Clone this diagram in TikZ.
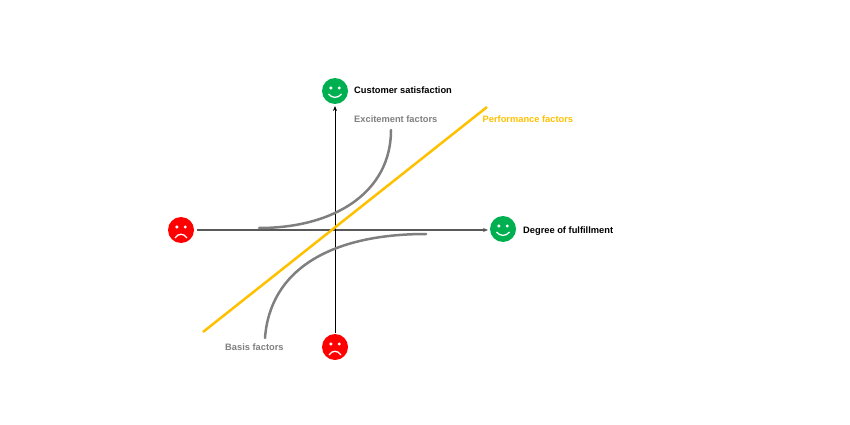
\documentclass[tikz,border=0pt]{standalone}
\usepackage{fontspec}
\setmainfont{Liberation Sans}
\usetikzlibrary{arrows.meta}
\definecolor{fgreen}{HTML}{00B050}
\definecolor{fred}{HTML}{FF0000}
\definecolor{fgray}{HTML}{7F7F7F}
\definecolor{fyellow}{HTML}{FFC000}
\definecolor{faxis}{HTML}{595959}
\tikzset{
  face/.style={circle, fill=#1, minimum size=26pt, inner sep=0pt},
  lbl/.style={anchor=base west, inner sep=0pt, font=\fontsize{9.3}{11}\selectfont\bfseries},
  curve/.style={draw=fgray, line width=2.5pt},
  axisline/.style={-{Stealth[length=5pt,width=4pt]}, line width=#1},
}
\newcommand{\smileface}[1]{%
  \fill[white] ([shift={(-4.2,-3)}]#1.center) circle (1.7);
  \fill[white] ([shift={(4.2,-3)}]#1.center) circle (1.7);
  \draw[white, line width=1.3pt] ([shift={(-6.5,3)}]#1.center) .. controls ([shift={(-3,7.5)}]#1.center) and ([shift={(3,7.5)}]#1.center) .. ([shift={(6.5,3)}]#1.center);
}
\newcommand{\frownface}[1]{%
  \fill[white] ([shift={(-4.2,-3)}]#1.center) circle (1.7);
  \fill[white] ([shift={(4.2,-3)}]#1.center) circle (1.7);
  \draw[white, line width=1.3pt] ([shift={(-6,8)}]#1.center) .. controls ([shift={(-3,3)}]#1.center) and ([shift={(3,3)}]#1.center) .. ([shift={(6,8)}]#1.center);
}
\begin{document}
\begin{tikzpicture}[x=1pt, y=-1pt]
\useasboundingbox (0,0) rectangle (850,425);
% faces
\node[face=fgreen] (top) at (335,91) {};
\node[face=fred] (left) at (181,230) {};
\node[face=fgreen] (right) at (503,229) {};
\node[face=fred] (bottom) at (335,347) {};
\smileface{top}
\smileface{right}
\frownface{left}
\frownface{bottom}
% axes
\coordinate (origin) at (335,230);
\coordinate (xs) at (197,230);
\coordinate (xe) at (488,230);
\coordinate (ys) at (335,333);
\coordinate (ye) at (335,106);
\draw[axisline=1.4pt, draw=faxis] (xs) -- (xe);
\draw[axisline=0.9pt, draw=black] (ys) -- (ye);
% curves
\coordinate (e0) at (259,228);
\coordinate (e1) at (391,130);
\draw[curve, line cap=round] (e0) .. controls (335,228) and (391,192) .. (e1);
\coordinate (b0) at (265,338);
\coordinate (b1) at (426,234);
\draw[curve, line cap=round] (b0) .. controls (270,270) and (330,234) .. (b1);
\coordinate (p0) at (203,332);
\coordinate (p1) at (487,107);
\draw[draw=fyellow, line width=2.5pt] (p0) -- (p1);
% labels
\node[lbl] (cs) at (354,94) {Customer satisfaction};
\node[lbl, text=fgray] (ef) at (354,122.5) {Excitement factors};
\node[lbl, text=fyellow] (pf) at (482.5,122) {Performance factors};
\node[lbl, text=fgray] (bf) at (225,350) {Basis factors};
\node[lbl] (df) at (523,233) {Degree of fulfillment};
\end{tikzpicture}
\end{document}
